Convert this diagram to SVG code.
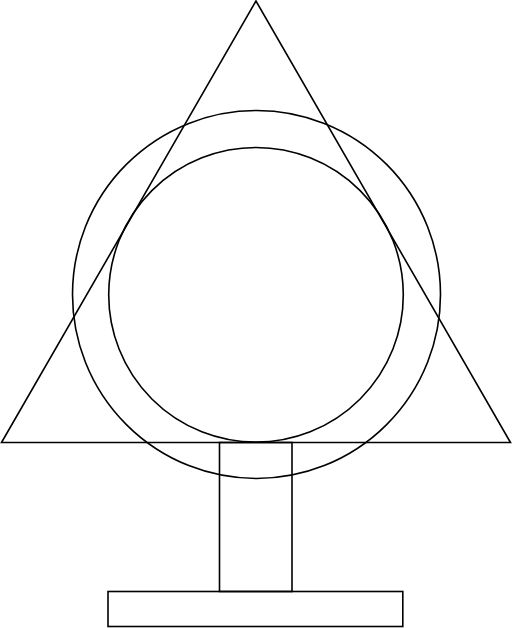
<svg xmlns="http://www.w3.org/2000/svg" width="512" height="628" viewBox="0 0 512 628">
<style>.s{fill:none;stroke:#000;stroke-width:1.6}</style>
<rect width="512" height="628" fill="#fff"/>
<g id="triangle"><polygon class="s" points="256,1 1.5,442.5 510.5,442.5"/></g>
<g id="outer-circle"><circle class="s" cx="256.5" cy="294.5" r="184"/></g>
<g id="inner-circle"><circle class="s" cx="256" cy="294.8" r="147.3"/></g>
<g id="stem"><rect class="s" x="219.5" y="442.5" width="72.5" height="149"/></g>
<g id="base"><rect class="s" x="108" y="591.5" width="294.8" height="35"/></g>
</svg>
